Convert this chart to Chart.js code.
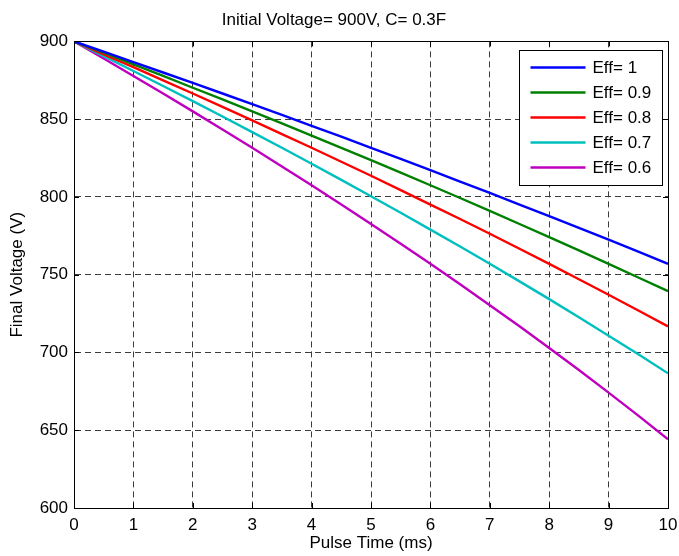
<!DOCTYPE html>
<html>
<head>
<meta charset="utf-8">
<script src="https://cdn.jsdelivr.net/npm/chart.js@4/dist/chart.umd.min.js"></script>
<style>
  html, body { margin: 0; padding: 0; background: #fff; }
  #wrap { width: 679px; height: 556px; }
</style>
</head>
<body>
<div id="wrap"><canvas id="panel-chart" width="679" height="556"></canvas></div>
<script>
// pulse time (ms)
const pulseTime = [0, 0.5, 1, 1.5, 2, 2.5, 3, 3.5, 4, 4.5, 5, 5.5, 6, 6.5, 7, 7.5, 8, 8.5, 9, 9.5, 10];

const seriesLabels = ['Eff= 1', 'Eff= 0.9', 'Eff= 0.8', 'Eff= 0.7', 'Eff= 0.6'];

// final voltage (V)
const eff10 = [900, 893.4, 886.7, 880.0, 873.3, 866.5, 859.6, 852.7, 845.7, 838.7, 831.6, 824.4, 817.2, 809.9, 802.6, 795.1, 787.7, 780.1, 772.5, 764.8, 757.0];
const eff09 = [900, 892.7, 885.3, 877.8, 870.2, 862.7, 855.0, 847.3, 839.4, 831.6, 823.6, 815.6, 807.5, 799.3, 791.0, 782.6, 774.2, 765.6, 757.0, 748.2, 739.4];
const eff08 = [900, 891.7, 883.4, 875.0, 866.5, 857.9, 849.2, 840.4, 831.6, 822.6, 813.6, 804.4, 795.1, 785.8, 776.3, 766.7, 757.0, 747.1, 737.1, 727.0, 716.8];
const eff07 = [900, 890.5, 881.0, 871.3, 861.6, 851.7, 841.7, 831.6, 821.3, 811.0, 800.4, 789.8, 779.0, 768.1, 757.0, 745.7, 734.3, 722.6, 710.8, 698.8, 686.6];
const eff06 = [900, 889.0, 877.8, 866.5, 855.0, 843.4, 831.6, 819.6, 807.5, 795.1, 782.6, 769.9, 757.0, 743.8, 730.4, 716.8, 702.9, 688.7, 674.2, 659.4, 644.2];

const xTicks = [0, 1, 2, 3, 4, 5, 6, 7, 8, 9, 10];
const yTicks = [600, 650, 700, 750, 800, 850, 900];

const lineColors = ['#0000ff', '#008000', '#ff0000', '#00bfbf', '#bf00bf'];
const seriesValues = [eff10, eff09, eff08, eff07, eff06];

const fontFamily = '"Liberation Sans", Arial, Helvetica, sans-serif';

const datasets = seriesValues.map((vals, i) => ({
    label: seriesLabels[i],
    data: vals.map((v, j) => ({ x: pulseTime[j], y: v })),
    borderColor: lineColors[i],
    backgroundColor: lineColors[i],
    borderWidth: 2.4,
    pointRadius: 0,
    tension: 0,
    fill: false
}));

// matlab style box with inward ticks on all four sides
const boxPlugin = {
    id: 'matlabBox',
    afterDatasetsDraw(chart) {
        const { ctx, chartArea: a, scales } = chart;
        const tl = 5;
        ctx.save();
        ctx.strokeStyle = '#000';
        ctx.lineWidth = 1;
        ctx.setLineDash([]);
        ctx.beginPath();
        xTicks.forEach(t => {
            const px = Math.round(scales.x.getPixelForValue(t)) + 0.5;
            ctx.moveTo(px, a.bottom); ctx.lineTo(px, a.bottom - tl);
            ctx.moveTo(px, a.top); ctx.lineTo(px, a.top + tl);
        });
        yTicks.forEach(t => {
            const py = Math.round(scales.y.getPixelForValue(t)) + 0.5;
            ctx.moveTo(a.left, py); ctx.lineTo(a.left + tl, py);
            ctx.moveTo(a.right, py); ctx.lineTo(a.right - tl, py);
        });
        ctx.stroke();
        ctx.strokeRect(Math.round(a.left) + 0.5, Math.round(a.top) + 0.5,
            Math.round(a.right - a.left), Math.round(a.bottom - a.top));
        ctx.restore();
    }
};

// legend box drawn inside the axes, top right
const legendPlugin = {
    id: 'matlabLegend',
    afterDraw(chart) {
        const { ctx, chartArea: a } = chart;
        const w = 143, h = 135;
        const left = Math.round(a.right - 6 - w) + 0.5;
        const top = Math.round(a.top + 9) + 0.5;
        ctx.save();
        ctx.fillStyle = '#fff';
        ctx.fillRect(left, top, w, h);
        ctx.strokeStyle = '#000';
        ctx.lineWidth = 1;
        ctx.strokeRect(left, top, w, h);
        ctx.font = '17px ' + fontFamily;
        ctx.textBaseline = 'middle';
        ctx.textAlign = 'left';
        chart.data.datasets.forEach((ds, i) => {
            const y = top + 17 + i * 25;
            ctx.strokeStyle = ds.borderColor;
            ctx.lineWidth = 2.4;
            ctx.beginPath();
            ctx.moveTo(left + 11, y);
            ctx.lineTo(left + 66, y);
            ctx.stroke();
            ctx.fillStyle = '#000';
            ctx.fillText(ds.label, left + 73, y + 1);
        });
        ctx.restore();
    }
};

const chart = new Chart(document.getElementById('panel-chart').getContext('2d'), {
    type: 'line',
    data: { datasets: datasets },
    options: {
        responsive: false,
        animation: false,
        devicePixelRatio: 1,
        layout: { padding: { left: 0, right: 11, top: 0, bottom: 0 } },
        plugins: {
            legend: { display: false },
            tooltip: { enabled: false },
            title: {
                display: true,
                text: 'Initial Voltage= 900V, C= 0.3F',
                color: '#000',
                font: { family: fontFamily, size: 17, weight: 'normal', lineHeight: 1.2 },
                padding: { top: 10, bottom: 11 }
            }
        },
        scales: {
            x: {
                type: 'linear',
                min: 0,
                max: 10,
                afterBuildTicks: scale => { scale.ticks = xTicks.map(v => ({ value: v })); },
                afterFit: scale => {
                    scale.height = 48;
                    scale.paddingLeft = 0;
                    scale.paddingRight = 0;
                },
                ticks: {
                    color: '#000',
                    padding: 7,
                    maxRotation: 0,
                    font: { family: fontFamily, size: 17 }
                },
                grid: { color: '#3c3c3c', lineWidth: 1, drawTicks: false },
                border: { display: true, color: '#000', dash: [6, 4] },
                title: {
                    display: true,
                    text: 'Pulse Time (ms)',
                    color: '#000',
                    font: { family: fontFamily, size: 17 },
                    padding: { top: 0, bottom: 2 }
                }
            },
            y: {
                type: 'linear',
                min: 600,
                max: 900,
                afterBuildTicks: scale => { scale.ticks = yTicks.map(v => ({ value: v })); },
                afterFit: scale => {
                    scale.width = 74;
                    scale.paddingTop = 0;
                    scale.paddingBottom = 0;
                },
                ticks: {
                    color: '#000',
                    padding: 6,
                    font: { family: fontFamily, size: 17 }
                },
                grid: { color: '#3c3c3c', lineWidth: 1, drawTicks: false },
                border: { display: true, color: '#000', dash: [6, 4] },
                title: {
                    display: true,
                    text: 'Final Voltage (V)',
                    color: '#000',
                    font: { family: fontFamily, size: 17 },
                    padding: { top: 7, bottom: 0 }
                }
            }
        }
    },
    plugins: [boxPlugin, legendPlugin]
});
</script>
</body>
</html>
